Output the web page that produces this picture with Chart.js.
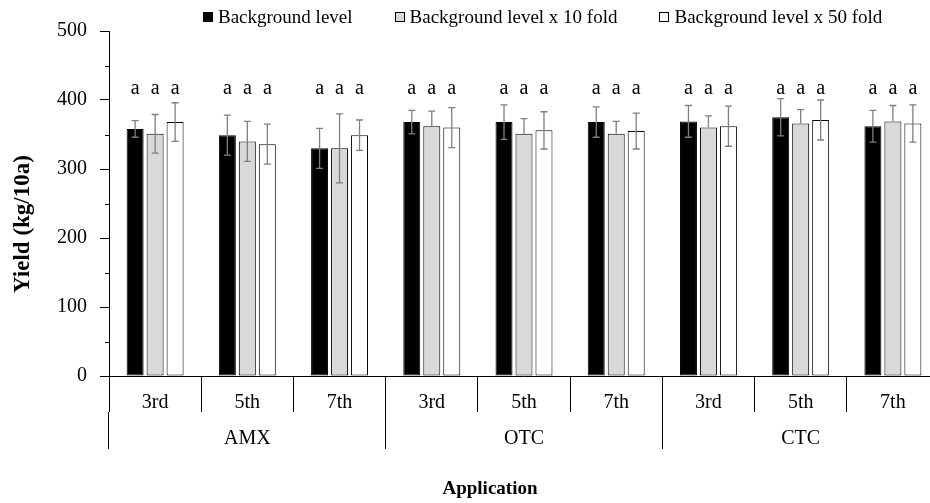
<!DOCTYPE html>
<html>
<head>
<meta charset="utf-8">
<script src="https://cdn.jsdelivr.net/npm/chart.js@4.4.0/dist/chart.umd.min.js"></script>
<style>
    html, body { margin: 0; padding: 0; background: #fff; overflow: hidden; width: 930px; height: 503px; }
    #wrap { position: relative; width: 945px; height: 503px; }
    #legend {
        position: absolute; top: 6px; left: 203px; display: flex;
        font-family: 'Liberation Serif', 'Times New Roman', serif; font-size: 19px; color: #000; white-space: nowrap;
    }
    .item { display: flex; align-items: center; margin-right: 42px; }
    .sw { width: 8px; height: 8px; border: 1px solid #000; margin-right: 5px; }
</style>
</head>
<body>
<div id="wrap">
    <canvas id="yieldChart" width="945" height="503"></canvas>
    <div id="legend"></div>
</div>
<script>
// ==================== DATA ====================
const rounds = ['3rd', '5th', '7th', '3rd', '5th', '7th', '3rd', '5th', '7th'];
const antibiotics = ['AMX', 'OTC', 'CTC'];
const yTicks = [0, 100, 200, 300, 400, 500];

const seriesNames = ['Background level', 'Background level x 10 fold', 'Background level x 50 fold'];
const seriesColors = ['#000000', '#d9d9d9', '#ffffff'];

const bgLevel    = [358, 349, 330, 368, 368, 368, 369, 375, 362];
const bgErrUp    = [12, 29, 29, 17, 25, 22, 23, 27, 23];
const bgErrDown  = [12, 29, 29, 17, 25, 22, 23, 27, 23];

const x10Level   = [351, 340, 330, 362, 351, 351, 360, 366, 369];
const x10ErrUp   = [28, 29, 50, 22, 22, 18, 17, 20, 23];
const x10ErrDown = [28, 29, 50, 0, 0, 0, 0, 0, 0];

const x50Level   = [368, 336, 349, 360, 356, 355, 362, 371, 366];
const x50ErrUp   = [28, 29, 22, 29, 27, 26, 29, 29, 27];
const x50ErrDown = [28, 29, 22, 29, 27, 26, 29, 29, 27];

const bgLetters  = ['a', 'a', 'a', 'a', 'a', 'a', 'a', 'a', 'a'];
const x10Letters = ['a', 'a', 'a', 'a', 'a', 'a', 'a', 'a', 'a'];
const x50Letters = ['a', 'a', 'a', 'a', 'a', 'a', 'a', 'a', 'a'];
const letterLevel = 408;
const minorTicks = [50, 150, 250, 350, 450];

const yTitle = 'Yield (kg/10a)';
const xTitle = 'Application';

const SERIF = "'Liberation Serif', 'Times New Roman', serif";

// ==================== LEGEND (HTML) ====================
const legendEl = document.getElementById('legend');
seriesNames.forEach((name, i) => {
    const item = document.createElement('div');
    item.className = 'item';
    const sw = document.createElement('span');
    sw.className = 'sw';
    sw.style.background = seriesColors[i];
    const txt = document.createElement('span');
    txt.textContent = name;
    item.appendChild(sw);
    item.appendChild(txt);
    legendEl.appendChild(item);
});

// ==================== PLUGINS ====================
const extrasPlugin = {
    id: 'extras',
    afterDatasetsDraw(chart) {
        const ctx = chart.ctx;
        const y = chart.scales.y;
        ctx.save();
        // error bars
        ctx.strokeStyle = '#7f7f7f';
        ctx.lineWidth = 1.3;
        chart.data.datasets.forEach((ds, i) => {
            chart.getDatasetMeta(i).data.forEach((bar, j) => {
                const v = ds.data[j];
                const yTop = y.getPixelForValue(v + ds.errUp[j]);
                const yBot = y.getPixelForValue(v - ds.errDown[j]);
                ctx.beginPath();
                ctx.moveTo(bar.x, yTop);
                ctx.lineTo(bar.x, yBot);
                ctx.moveTo(bar.x - 3.5, yTop);
                ctx.lineTo(bar.x + 3.5, yTop);
                if (ds.errDown[j] > 0) {
                    ctx.moveTo(bar.x - 3.5, yBot);
                    ctx.lineTo(bar.x + 3.5, yBot);
                }
                ctx.stroke();
            });
        });
        // significance letters
        ctx.fillStyle = '#000';
        ctx.font = '20px ' + SERIF;
        ctx.textAlign = 'center';
        ctx.textBaseline = 'alphabetic';
        const ly = y.getPixelForValue(letterLevel);
        chart.data.datasets.forEach((ds, i) => {
            chart.getDatasetMeta(i).data.forEach((bar, j) => {
                ctx.fillText(ds.letters[j], bar.x, ly);
            });
        });
        ctx.restore();
    },
    afterDraw(chart) {
        const ctx = chart.ctx;
        const y = chart.scales.y;
        ctx.save();
        // minor ticks on y axis
        ctx.strokeStyle = '#000';
        ctx.lineWidth = 1;
        minorTicks.forEach(v => {
            const py = Math.round(y.getPixelForValue(v)) + 0.5;
            ctx.beginPath();
            ctx.moveTo(y.right - 4, py);
            ctx.lineTo(y.right, py);
            ctx.stroke();
        });
        // axis titles
        ctx.fillStyle = '#000';
        ctx.textAlign = 'center';
        ctx.font = 'bold 19px ' + SERIF;
        ctx.textBaseline = 'alphabetic';
        ctx.fillText(xTitle, 490, 494);

        ctx.font = 'bold 23px ' + SERIF;
        ctx.textBaseline = 'middle';
        ctx.translate(23, 224);
        ctx.rotate(-Math.PI / 2);
        ctx.fillText(yTitle, 0, 0);
        ctx.restore();
    }
};

// ==================== CHART ====================
const ctx = document.getElementById('yieldChart').getContext('2d');
const levels = [bgLevel, x10Level, x50Level];
const errUps = [bgErrUp, x10ErrUp, x50ErrUp];
const errDowns = [bgErrDown, x10ErrDown, x50ErrDown];
const letters = [bgLetters, x10Letters, x50Letters];

const yieldChart = new Chart(ctx, {
    type: 'bar',
    data: {
        labels: rounds,
        datasets: seriesNames.map((name, i) => ({
            label: name,
            data: levels[i],
            errUp: errUps[i],
            errDown: errDowns[i],
            letters: letters[i],
            backgroundColor: seriesColors[i],
            borderColor: '#000000',
            borderWidth: 1,
            borderSkipped: false,
            categoryPercentage: 0.65,
            barPercentage: 0.85
        }))
    },
    options: {
        responsive: false,
        animation: false,
        layout: { padding: { left: 0, top: 31, right: 6, bottom: 54 } },
        plugins: {
            legend: { display: false },
            tooltip: { enabled: false }
        },
        scales: {
            y: {
                min: 0,
                max: 500,
                afterBuildTicks: (scale) => { scale.ticks = yTicks.map(v => ({ value: v })); },
                afterFit: (scale) => { scale.width = 109; },
                ticks: {
                    color: '#000',
                    font: { family: SERIF, size: 20 },
                    padding: 13
                },
                grid: { drawOnChartArea: false, drawTicks: true, tickLength: 9, color: '#000', tickColor: '#000' },
                border: { display: true, color: '#000', width: 1 }
            },
            x: {
                weight: 0,
                afterFit: (scale) => { scale.height = 36; },
                ticks: {
                    color: '#000',
                    font: { family: SERIF, size: 20 },
                    padding: -21,
                    maxRotation: 0,
                    autoSkip: false
                },
                grid: { offset: true, drawOnChartArea: false, tickLength: 36, color: '#000', tickColor: '#000' },
                border: { display: true, color: '#000', width: 1 }
            },
            x2: {
                type: 'category',
                position: 'bottom',
                weight: 1,
                labels: antibiotics,
                afterFit: (scale) => { scale.height = 37; },
                ticks: {
                    color: '#000',
                    font: { family: SERIF, size: 20 },
                    padding: -22,
                    maxRotation: 0,
                    autoSkip: false
                },
                grid: { offset: true, drawOnChartArea: false, tickLength: 37, color: '#000', tickColor: '#000' },
                border: { display: false }
            }
        }
    },
    plugins: [extrasPlugin]
});
</script>
</body>
</html>
